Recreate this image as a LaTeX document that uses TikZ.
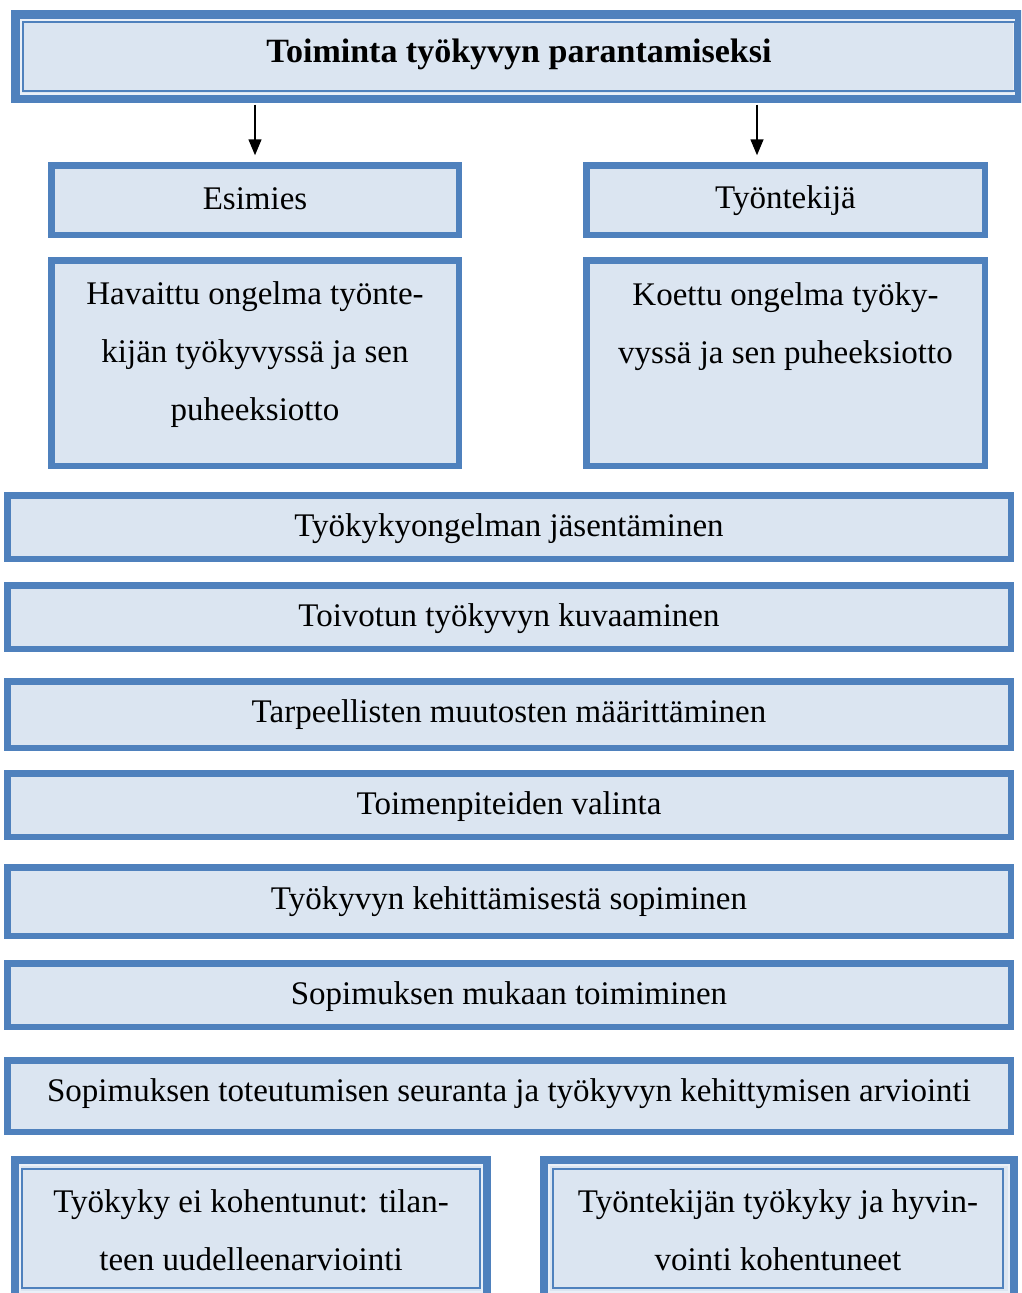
\documentclass[tikz,border=0pt]{standalone}
\usepackage{fontspec}
\setmainfont{Liberation Serif}
\usetikzlibrary{arrows.meta}
\definecolor{bordc}{HTML}{4F81BD}
\definecolor{fillc}{HTML}{DBE5F1}
\definecolor{gapc}{HTML}{EAF0F8}
\tikzset{
  box/.style={draw=bordc, fill=fillc, line width=6.5pt, inner sep=0pt, outer sep=0pt, minimum width=1003.5pt},
  txt/.style={font=\fontsize{33}{58}\selectfont, align=center, inner sep=0pt, text=black},
  dblouter/.style={draw=bordc, fill=fillc, line width=8.5pt, inner sep=0pt, outer sep=0pt},
  thinline/.style={draw=bordc, line width=2pt},
  gapline/.style={draw=gapc, line width=2pt},
  arr/.style={line width=1.5pt, -{Triangle[length=16pt,width=13pt]}}
}
\begin{document}
\begin{tikzpicture}[x=1pt,y=-1pt]
\useasboundingbox (0,0) rectangle (1021,1293);
\begin{scope}
\clip (0,0) rectangle (1021,1293);
% top box
\node[dblouter, minimum width=1003pt, minimum height=84pt] (top) at (517,56.5) {};
\draw[gapline] ([shift={(5,5)}]top.north west) rectangle ([shift={(-5,-5)}]top.south east);
\draw[thinline] ([shift={(7,7)}]top.north west) rectangle ([shift={(-3.5,-7.5)}]top.south east);
\node[txt, font=\fontsize{34}{58}\selectfont\bfseries] (toptxt) at (519,54) {Toiminta työkyvyn parantamiseksi};
% second level
\node[box, minimum width=407.5pt, minimum height=69.5pt] (esim) at (255,200) {};
\node[txt] (esimt) at (255,199) {Esimies};
\node[box, minimum width=398.5pt, minimum height=69.5pt] (tyon) at (785.5,200) {};
\node[txt] (tyont) at (785.5,201) {Työntekijä};
\coordinate (rx) at (757,0);
\draw[arr] ([yshift=-6pt]top.south -| esim.north) -- ([yshift=10pt]esim.north);
\draw[arr] ([yshift=-6pt]top.south -| rx) -- ([yshift=10pt]tyon.north -| rx);
% problem boxes
\node[box, minimum width=407.5pt, minimum height=205.5pt] (hav) at (255,363) {};
\node[txt] (havt) at (255,355) {Havaittu ongelma työnte-\\kijän työkyvyssä ja sen\\puheeksiotto};
\node[box, minimum width=398.5pt, minimum height=205.5pt] (koe) at (785.5,363) {};
\node[txt] (koet) at (785.5,327) {Koettu ongelma työky-\\vyssä ja sen puheeksiotto};
% full width steps
\node[box, minimum height=63.5pt] (s1) at (509,527) {};
\node[txt] (s1t) at (509,529) {Työkykyongelman jäsentäminen};
\node[box, minimum height=63.5pt] (s2) at (509,617) {};
\node[txt] (s2t) at (509,619) {Toivotun työkyvyn kuvaaminen};
\node[box, minimum height=66.5pt] (s3) at (509,714.5) {};
\node[txt] (s3t) at (509,715) {Tarpeellisten muutosten määrittäminen};
\node[box, minimum height=63.5pt] (s4) at (509,805) {};
\node[txt] (s4t) at (509,807) {Toimenpiteiden valinta};
\node[box, minimum height=68.5pt] (s5) at (509,901.5) {};
\node[txt] (s5t) at (509,902) {Työkyvyn kehittämisestä sopiminen};
\node[box, minimum height=63.5pt] (s6) at (509,995) {};
\node[txt] (s6t) at (509,997) {Sopimuksen mukaan toimiminen};
\node[box, minimum height=71.5pt] (s7) at (509,1096) {};
\node[txt] (s7t) at (509,1094) {Sopimuksen toteutumisen seuranta ja työkyvyn kehittymisen arviointi};
% bottom double boxes
\node[dblouter, minimum width=472pt, minimum height=137pt] (bl) at (251,1228.5) {};
\draw[gapline] ([shift={(5,5)}]bl.north west) rectangle ([shift={(-5,-5)}]bl.south east);
\draw[thinline] ([shift={(7,9)}]bl.north west) rectangle ([shift={(-7,-9)}]bl.south east);
\node[txt] (blt) at (251,1230) {Työkyky ei kohentunut: tilan-\\teen uudelleenarviointi};
\node[dblouter, minimum width=470pt, minimum height=137pt] (br) at (779,1228.5) {};
\draw[gapline] ([shift={(5,5)}]br.north west) rectangle ([shift={(-5,-5)}]br.south east);
\draw[thinline] ([shift={(9,9)}]br.north west) rectangle ([shift={(-11,-9)}]br.south east);
\node[txt] (brt) at (778,1230) {Työntekijän työkyky ja hyvin-\\vointi kohentuneet};
\end{scope}
\end{tikzpicture}
\end{document}
